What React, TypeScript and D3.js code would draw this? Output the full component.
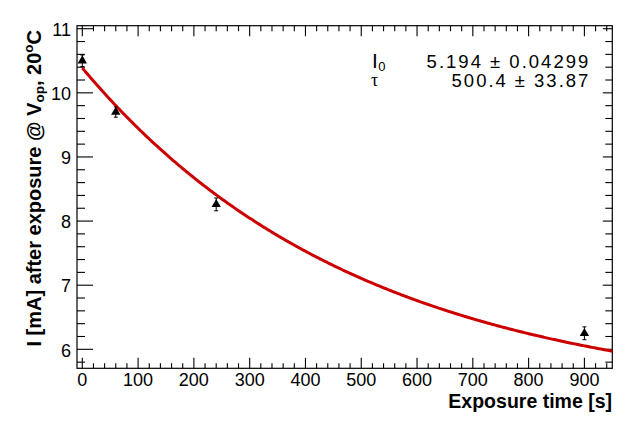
import React, { useEffect, useRef } from 'react';
import * as d3 from 'd3';

// measured points
const exposureTimes = [0, 60, 240, 900];
const currents = [10.5, 9.7, 8.26, 6.25];
const currentErrors = [0.09, 0.08, 0.1, 0.1];

// fit result: I(t) = I0 * (1 + exp(-t / tau))
const fitI0 = 5.194;
const fitTau = 500.4;
const fitValueLabels = ['5.194 \u00b1 0.04299', '500.4 \u00b1 33.87'];

const xTickValues = [0, 100, 200, 300, 400, 500, 600, 700, 800, 900];
const yTickValues = [6, 7, 8, 9, 10, 11];

const W = 643;
const H = 425;
const frame = { left: 77, right: 612.3, top: 25.7, bottom: 368.3 };
const font = '"Liberation Sans", Arial, Helvetica, sans-serif';

const App: React.FC = () => {
  const svgRef = useRef<SVGSVGElement>(null);

  useEffect(() => {
    document.body.style.margin = '0';
    if (!svgRef.current) return;
    const svg = d3.select(svgRef.current);
    svg.selectAll('*').remove();

    const x = d3.scaleLinear().domain([-9.5, 950]).range([frame.left, frame.right]);
    const y = d3.scaleLinear().domain([5.704, 11.047]).range([frame.bottom, frame.top]);

    const xMinor = d3.range(0, 950, 20).filter(v => v % 100 !== 0);
    const yMinor = d3.range(58, 111, 2).map(v => v / 10).filter(v => Math.abs(v - Math.round(v)) > 1e-6);

    // frame
    svg.append('rect')
      .attr('x', frame.left).attr('y', frame.top)
      .attr('width', frame.right - frame.left).attr('height', frame.bottom - frame.top)
      .attr('fill', 'none').attr('stroke', '#000').attr('stroke-width', 1.2);

    const ticks = svg.append('g').attr('stroke', '#000').attr('stroke-width', 1.1);

    // bottom + top ticks
    [...xTickValues.map(v => ({ v, major: true })), ...xMinor.map(v => ({ v, major: false }))].forEach(t => {
      const px = x(t.v);
      ticks.append('line').attr('x1', px).attr('x2', px)
        .attr('y1', frame.bottom).attr('y2', frame.bottom - (t.major ? 10.5 : 5));
      ticks.append('line').attr('x1', px).attr('x2', px)
        .attr('y1', frame.top).attr('y2', frame.top + (t.major ? 10.5 : 5.5));
    });

    // left + right ticks
    [...yTickValues.map(v => ({ v, major: true })), ...yMinor.map(v => ({ v, major: false }))].forEach(t => {
      const py = y(t.v);
      ticks.append('line').attr('y1', py).attr('y2', py)
        .attr('x1', frame.left).attr('x2', frame.left + (t.major ? 16 : 8));
      ticks.append('line').attr('y1', py).attr('y2', py)
        .attr('x1', frame.right).attr('x2', frame.right - (t.major ? 9.5 : 7));
    });

    // tick labels
    svg.append('g').selectAll('text')
      .data(xTickValues).enter().append('text')
      .attr('x', d => x(d)).attr('y', 386)
      .attr('text-anchor', 'middle')
      .style('font-family', font).style('font-size', '18px')
      .text(d => d);

    svg.append('g').selectAll('text')
      .data(yTickValues).enter().append('text')
      .attr('x', 71).attr('y', d => y(d) + 7.3)
      .attr('text-anchor', 'end')
      .style('font-family', font).style('font-size', '18px')
      .text(d => d);

    // axis titles
    svg.append('text')
      .attr('x', 612).attr('y', 407.5)
      .attr('text-anchor', 'end')
      .style('font-family', font).style('font-size', '19.5px').style('font-weight', 'bold')
      .text('Exposure time [s]');

    const yt = svg.append('text')
      .attr('transform', 'translate(41,30) rotate(-90)')
      .attr('text-anchor', 'end')
      .style('font-family', font).style('font-size', '20px').style('font-weight', 'bold');
    yt.append('tspan').text('I [mA] after exposure @ V');
    yt.append('tspan').attr('dy', 3).style('font-size', '13.5px').text('op');
    yt.append('tspan').attr('dy', -3).text(', 20');
    yt.append('tspan').attr('dy', -8).style('font-size', '13.5px').text('o');
    yt.append('tspan').attr('dy', 8).text('C');

    // fit curve
    const curveT = d3.range(0, 950.01, 2);
    const line = d3.line<number>()
      .x(t => x(t))
      .y(t => y(fitI0 * (1 + Math.exp(-t / fitTau))));
    svg.append('path')
      .datum(curveT)
      .attr('d', line)
      .attr('fill', 'none')
      .attr('stroke', '#cc0000')
      .attr('stroke-width', 3);

    // error bars + markers
    const pts = exposureTimes.map((t, i) => ({ t, v: currents[i], e: currentErrors[i] }));
    const eb = svg.append('g').attr('stroke', '#000').attr('stroke-width', 1);
    pts.forEach(p => {
      const px = x(p.t);
      eb.append('line').attr('x1', px).attr('x2', px).attr('y1', y(p.v + p.e)).attr('y2', y(p.v - p.e));
      eb.append('line').attr('x1', px - 2).attr('x2', px + 2).attr('y1', y(p.v + p.e)).attr('y2', y(p.v + p.e));
      eb.append('line').attr('x1', px - 2).attr('x2', px + 2).attr('y1', y(p.v - p.e)).attr('y2', y(p.v - p.e));
    });
    svg.append('g').selectAll('path')
      .data(pts).enter().append('path')
      .attr('transform', d => `translate(${x(d.t)},${y(d.v)})`)
      .attr('d', d3.symbol(d3.symbolTriangle, 38)())
      .attr('fill', '#000');

    // fit parameters box
    const i0 = svg.append('text')
      .attr('x', 372).attr('y', 68)
      .style('font-family', font).style('font-size', '21px');
    i0.append('tspan').text('I');
    i0.append('tspan').attr('dx', 0.5).attr('dy', 2.5).style('font-size', '13px').text('0');
    svg.append('text')
      .attr('x', 371).attr('y', 86)
      .style('font-family', '"Liberation Serif", "Times New Roman", serif').style('font-size', '18px')
      .text('\u03c4');

    const valueWidths = [161.7, 136.7];
    fitValueLabels.forEach((s, i) => {
      svg.append('text')
        .attr('x', 588.3 - valueWidths[i]).attr('y', i === 0 ? 68.3 : 87.3)
        .attr('textLength', valueWidths[i])
        .attr('lengthAdjust', 'spacing')
        .style('font-family', font).style('font-size', '18.5px')
        .text(s);
    });
  }, []);

  return <svg ref={svgRef} width={W} height={H} style={{ display: 'block', background: '#fff' }} />;
};

export default App;
